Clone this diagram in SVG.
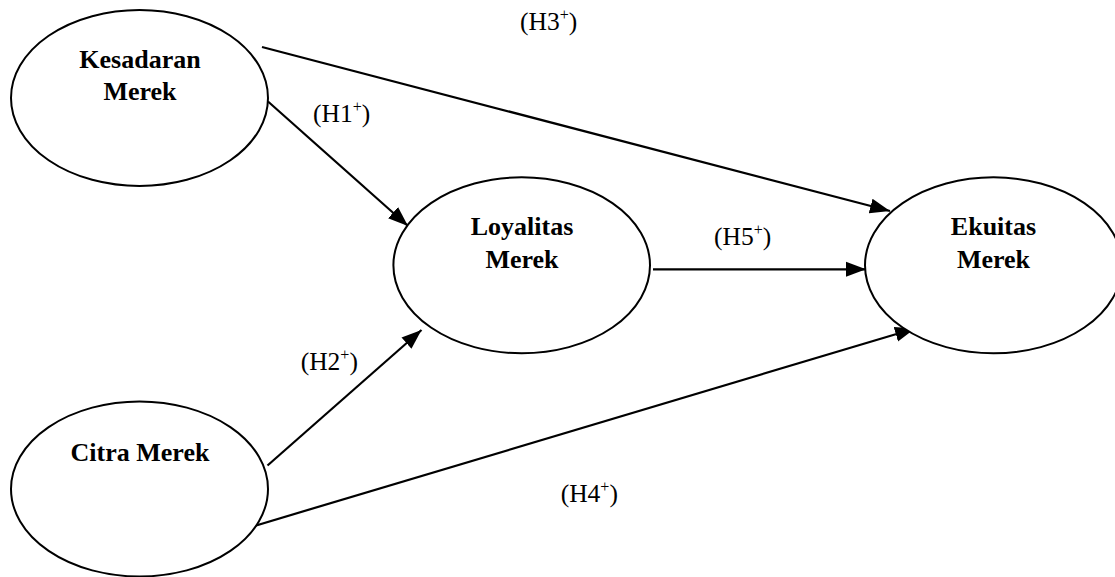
<svg xmlns="http://www.w3.org/2000/svg" width="1115" height="577" viewBox="0 0 1115 577">
<style>
.node ellipse{fill:#fff;stroke:#000;stroke-width:2}
.node text{font-family:"Liberation Serif","Times New Roman",serif;font-weight:bold;font-size:26px;text-anchor:middle;fill:#000}
.lbl{font-family:"Liberation Serif","Times New Roman",serif;font-size:25.5px;fill:#000}
.sup{font-size:16px}
.conn line{stroke:#000;stroke-width:2.2;marker-end:url(#ah)}
</style>
<defs>
<marker id="ah" markerUnits="userSpaceOnUse" markerWidth="20" markerHeight="16" refX="20" refY="7.5" orient="auto" viewBox="0 0 20 15">
<path d="M0,0 L20,7.5 L0,15 z" fill="#000"/>
</marker>
</defs>
<rect width="1115" height="577" fill="#fff"/>
<g id="connectors" class="conn">
<line x1="262" y1="47" x2="890" y2="211"/>
<line x1="268" y1="101.5" x2="408" y2="226"/>
<line x1="267.5" y1="465.5" x2="421.5" y2="330"/>
<line x1="653" y1="269.3" x2="866" y2="269.3"/>
<line x1="252.5" y1="526.5" x2="915" y2="328.5"/>
</g>
<g id="kesadaran" class="node">
<ellipse cx="139.5" cy="98" rx="128.5" ry="88"/>
<text x="140" y="68">Kesadaran</text>
<text x="140" y="100">Merek</text>
</g>
<g id="citra" class="node">
<ellipse cx="139.5" cy="489" rx="128.5" ry="87.5"/>
<text x="140" y="461">Citra Merek</text>
</g>
<g id="loyalitas" class="node">
<ellipse cx="521.7" cy="265.3" rx="128.3" ry="88"/>
<text x="522" y="235">Loyalitas</text>
<text x="522" y="268">Merek</text>
</g>
<g id="ekuitas" class="node">
<ellipse cx="993.5" cy="265.3" rx="128.5" ry="88"/>
<text x="993.5" y="235">Ekuitas</text>
<text x="993.5" y="268">Merek</text>
</g>
<g id="labels">
<text class="lbl" x="520" y="30">(H3<tspan class="sup" dy="-10">+</tspan><tspan dy="10">)</tspan></text>
<text class="lbl" x="313" y="121.7">(H1<tspan class="sup" dy="-10">+</tspan><tspan dy="10">)</tspan></text>
<text class="lbl" x="300.7" y="370">(H2<tspan class="sup" dy="-10">+</tspan><tspan dy="10">)</tspan></text>
<text class="lbl" x="714" y="245">(H5<tspan class="sup" dy="-10">+</tspan><tspan dy="10">)</tspan></text>
<text class="lbl" x="560.7" y="501.7">(H4<tspan class="sup" dy="-10">+</tspan><tspan dy="10">)</tspan></text>
</g>
</svg>
